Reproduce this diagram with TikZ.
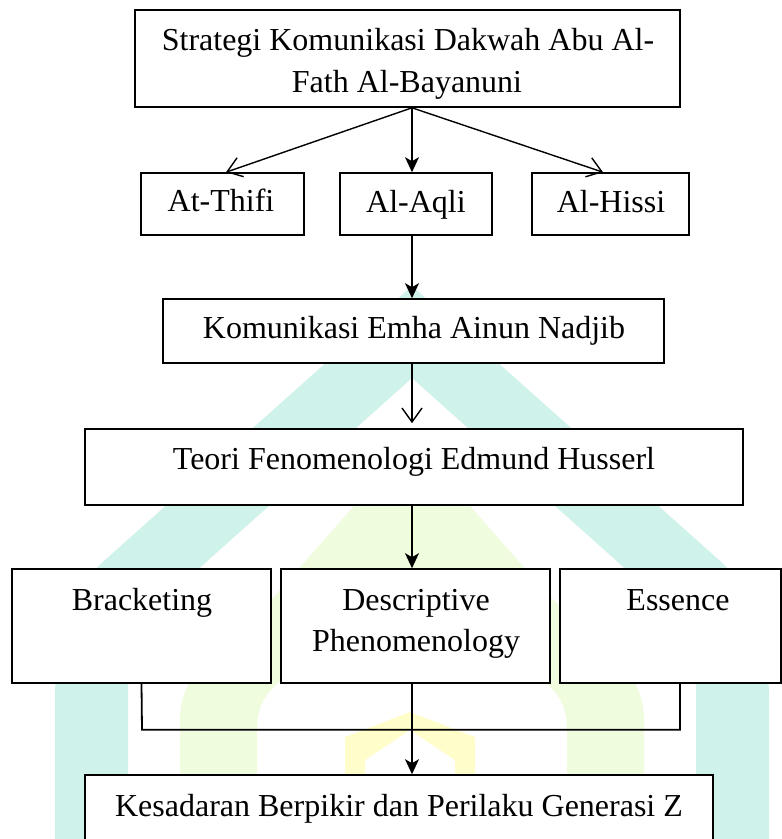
\documentclass[tikz,border=0pt]{standalone}
\usepackage{fontspec}
\setmainfont{Liberation Serif}
\usetikzlibrary{arrows.meta,calc}
\definecolor{wmteal}{RGB}{207,242,234}
\definecolor{wmgreen}{RGB}{240,252,222}
\definecolor{wmyellow}{RGB}{255,253,202}
\tikzset{
  box/.style={draw=black, line width=1.6pt, fill=white, rectangle, inner sep=0pt},
  txt/.style={inner sep=0pt, font=\fontsize{32}{42}\selectfont, anchor=base},
  fillarrow/.style={draw=black, line width=1.4pt, -{Stealth[length=15pt,width=14pt,inset=4pt]}},
  openarrow/.style={draw=black, line width=1.4pt, -{Straight Barb[length=14pt,width=20pt,line width=1.4pt]}},
  plainline/.style={draw=black, line width=1.8pt, line join=miter}
}
\begin{document}
\begin{tikzpicture}[x=1pt,y=-1pt]
\useasboundingbox (0,0) rectangle (782,839);
\fill[white] (0,0) rectangle (782,839);
% watermark
\fill[wmteal] (55,839) -- (55,700) .. controls (55,640) and (71,590) .. (105,560)
  -- (412,286) -- (719,560) .. controls (753,590) and (769,640) .. (769,700)
  -- (769,839) -- (696,839) -- (696,690) .. controls (696,640) and (644,585) .. (610,555)
  -- (412,378) -- (214,555) .. controls (180,585) and (128,640) .. (128,690)
  -- (128,839) -- cycle;
\fill[wmgreen] (180,839) -- (180,720) .. controls (180,660) and (245,630) .. (280,590)
  -- (412,440) -- (544,590) .. controls (579,630) and (644,660) .. (644,720)
  -- (644,839) -- (567,839) -- (567,730) .. controls (567,690) and (544,683) .. (504,650)
  -- (412,575) -- (320,650) .. controls (280,683) and (257,690) .. (257,730)
  -- (257,839) -- cycle;
\fill[wmyellow] (345,839) -- (345,737) -- (410,712) -- (475,737) -- (475,839)
  -- (455,839) -- (455,760) -- (410,730) -- (365,760) -- (365,839) -- cycle;
% axis coordinate
\coordinate (ax) at (412,0);
% boxes
\node[box, minimum width=545pt, minimum height=97pt] (top) at (407.5,58.5) {};
\node[box, minimum width=163pt, minimum height=62pt] (thifi) at (222.5,204) {};
\node[box, minimum width=152pt, minimum height=62pt] (aqli) at (416,204) {};
\node[box, minimum width=157pt, minimum height=62pt] (hissi) at (610.5,204) {};
\node[box, minimum width=501pt, minimum height=64pt] (kom) at (413.5,331) {};
\node[box, minimum width=658pt, minimum height=76pt] (teori) at (414,467) {};
\node[box, minimum width=259pt, minimum height=114pt] (brack) at (141.5,626) {};
\node[box, minimum width=269pt, minimum height=114pt] (desc) at (415.5,626) {};
\node[box, minimum width=221pt, minimum height=114pt] (ess) at (670.5,626) {};
\node[box, minimum width=628pt, minimum height=90pt] (kes) at (399,820) {};
% texts
\node[txt] (t1) at (408,50) {Strategi Komunikasi Dakwah Abu Al-};
\node[txt] (t2) at (407,92) {Fath Al-Bayanuni};
\node[txt] (t3) at (221,211) {At-Thifi};
\node[txt] (t4) at (416,212) {Al-Aqli};
\node[txt] (t5) at (611,212) {Al-Hissi};
\node[txt] (t6) at (414,338) {Komunikasi Emha Ainun Nadjib};
\node[txt] (t7) at (414,469) {Teori Fenomenologi Edmund Husserl};
\node[txt] (t8) at (142,610) {Bracketing};
\node[txt] (t9) at (416,610) {Descriptive};
\node[txt] (t10) at (416,651) {Phenomenology};
\node[txt] (t11) at (678,610) {Essence};
\node[txt] (t12) at (399,816) {Kesadaran Berpikir dan Perilaku Generasi Z};
% connectors
\draw[openarrow] (top.south -| ax) -- ($(thifi.north)+(3.5,0)$);
\draw[fillarrow] (top.south -| ax) -- (aqli.north -| ax);
\draw[openarrow] (top.south -| ax) -- ($(hissi.north)+(-7.5,0)$);
\draw[fillarrow] (aqli.south -| ax) -- (kom.north -| ax);
\draw[openarrow] (kom.south -| ax) -- ($(teori.north -| ax)+(0,-5)$);
\draw[fillarrow] (teori.south -| ax) -- (desc.north -| ax);
\coordinate (bl) at ($(brack.south)+(0.5,46)$);
\coordinate (br) at ($(ess.south)+(9.5,46)$);
\draw[plainline] (brack.south) -- (bl) -- (br) -- (br |- ess.south);
\draw[fillarrow] (desc.south -| ax) -- (kes.north -| ax);
\end{tikzpicture}
\end{document}
